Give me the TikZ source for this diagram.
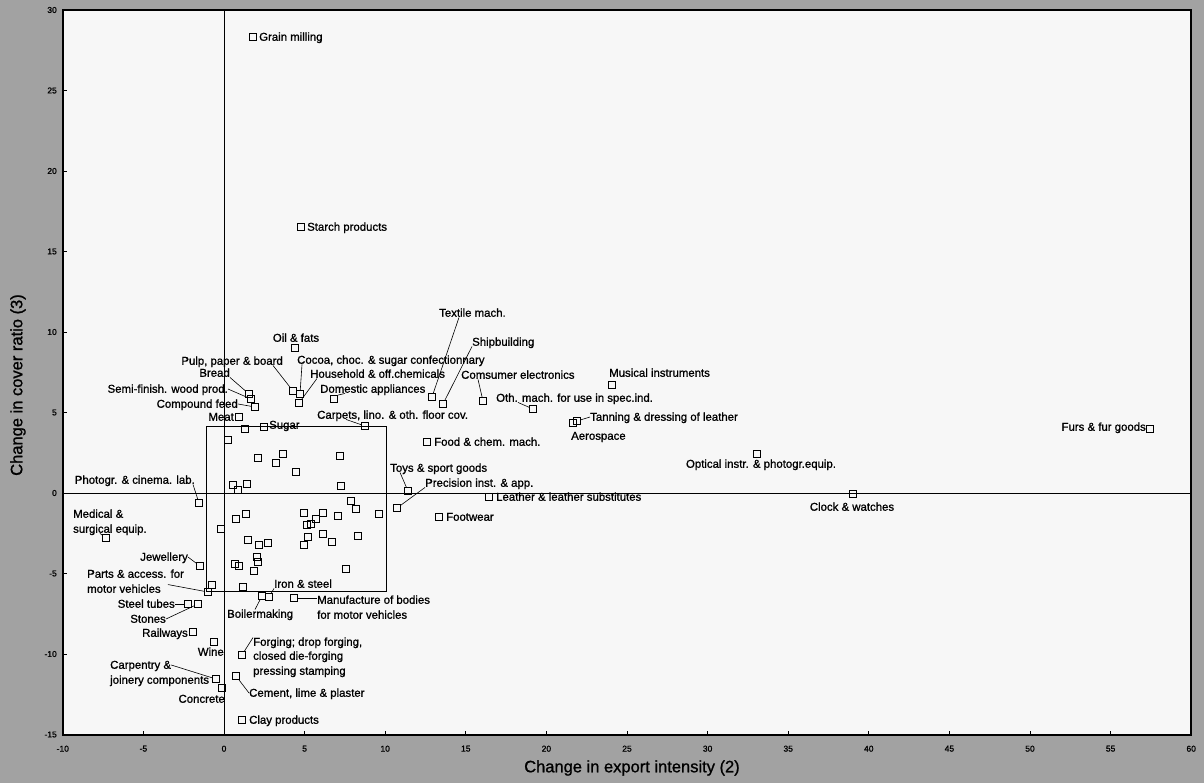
\documentclass[tikz,border=0pt]{standalone}
\usepackage{fontspec}
\setmainfont{Liberation Sans}
\newfontfamily\heavyfam[FakeBold=1.0]{Liberation Sans}
\usetikzlibrary{calc}
\definecolor{bggray}{RGB}{162,162,162}
\definecolor{plotbg}{RGB}{247,247,247}
\newcommand\mylblfont{\heavyfam\fontsize{11.4}{13}\selectfont}
\newcommand\mytickfont{\heavyfam\fontsize{8.5}{9}\selectfont}
\newcommand\mytitlefont{\heavyfam\fontsize{16.5}{18}\selectfont}
\begin{document}
\begin{tikzpicture}[x=1pt,y=-1pt,
  sq/.style={draw, line width=0.85pt, minimum size=7pt, inner sep=0pt},
  lbl/.style={font=\mylblfont, inner sep=0pt, text height=8pt, text depth=0.5pt},
  leader/.style={line width=0.6pt},
  ticklbl/.style={font=\mytickfont, inner sep=0pt},
  axtitle/.style={font=\mytitlefont, inner sep=0pt}]
\useasboundingbox (0,0) rectangle (1204,783);
\fill[bggray] (0,0) rectangle (1204,783);
\fill[plotbg] (63,10) rectangle (1191,735);
% zero lines and the inner box
\draw[line width=0.9pt] (224,10) -- (224,735);
\draw[line width=0.9pt] (63,493) -- (1191,493);
\draw[line width=0.8pt] (206,426) rectangle (386,591);
% ticks
\foreach \v in {-10,-5,...,60} {
  \pgfmathsetmacro\px{224+16.12*\v}
  \draw[line width=0.7pt] (\px,735) -- (\px,731);
  \node[ticklbl, anchor=north] (xt\v) at (\px,745.5) {\v};
}
\foreach \v in {-15,-10,...,30} {
  \pgfmathsetmacro\py{493-16.1*\v}
  \draw[line width=0.7pt] (63,\py) -- (67,\py);
  \node[ticklbl, anchor=east] (yt\v) at (57,\py) {\v};
}
\draw[line width=1.2pt] (63,10) rectangle (1191,735);
% axis titles
\node[axtitle] (xtitle) at (632,768) {Change in export intensity (2)};
\node[axtitle, rotate=90] (ytitle) at (18,385) {Change in cover ratio (3)};
% labelled points
\node[sq] (grain) at (253,37) {};
\node[sq] (starch) at (301,227) {};
\node[sq] (oil) at (295,348) {};
\node[sq] (pulp) at (293,391) {};
\node[sq] (cocoa) at (300,394) {};
\node[sq] (hh) at (299,403) {};
\node[sq] (dom) at (334,399) {};
\node[sq] (bread) at (249,394) {};
\node[sq] (semi) at (251,399) {};
\node[sq] (comp) at (255,407) {};
\node[sq] (meat) at (239,417) {};
\node[sq] (sugar) at (264,427) {};
\node[sq] (carp) at (365,426) {};
\node[sq] (tex) at (432,397) {};
\node[sq] (ship) at (443,404) {};
\node[sq] (cons) at (483,401) {};
\node[sq] (oth) at (533,409) {};
\node[sq] (mus) at (612,385) {};
\node[sq] (tan) at (577,421) {};
\node[sq] (aero) at (573,423) {};
\node[sq] (food) at (427,442) {};
\node[sq] (opt) at (757,454) {};
\node[sq] (furs) at (1150,429) {};
\node[sq] (clock) at (853,494) {};
\node[sq] (toys) at (408,491) {};
\node[sq] (prec) at (397,508) {};
\node[sq] (leath) at (489,497) {};
\node[sq] (foot) at (439,517) {};
\node[sq] (phot) at (199,503) {};
\node[sq] (med) at (106,538) {};
\node[sq] (jew) at (200,566) {};
\node[sq] (parts) at (208,592) {};
\node[sq] (iron) at (269,597) {};
\node[sq] (boil) at (262,596) {};
\node[sq] (manuf) at (294,598) {};
\node[sq] (st) at (188,604) {};
\node[sq] (stones) at (198,604) {};
\node[sq] (rail) at (193,632) {};
\node[sq] (wine) at (214,642) {};
\node[sq] (forge) at (242,655) {};
\node[sq] (carpj) at (216,679) {};
\node[sq] (conc) at (222,688) {};
\node[sq] (cem) at (236,676) {};
\node[sq] (clay) at (242,720) {};
% unlabelled points
\foreach \x/\y [count=\i] in {245/429,228/440,258/458,276/463,283/454,296/472,340/456,
  233/485,238/490,247/484,341/486,351/501,356/509,379/514,304/513,323/513,316/519,
  338/516,311/524,307/525,236/519,246/514,221/529,248/540,259/545,268/543,358/536,
  323/534,332/542,308/537,304/545,257/557,258/562,235/564,239/566,254/571,346/569,
  212/585,243/587}
  \node[sq] (u\i) at (\x,\y) {};
% labels
\node[lbl, anchor=west] (grain-l) at (259,37) {Grain milling};
\node[lbl, anchor=west] (starch-l) at (307,227) {Starch products};
\node[lbl] (oil-l) at (296,338) {Oil \& fats};
\node[lbl, anchor=east] (pulp-l) at (283,361) {Pulp, paper \& board};
\node[lbl, anchor=west] (cocoa-l) at (297,360) {Cocoa, choc. \& sugar confectionnary};
\node[lbl, anchor=west] (hh-l) at (310,374) {Household \& off.chemicals};
\node[lbl, anchor=west] (dom-l) at (320,389) {Domestic appliances};
\node[lbl, anchor=east] (bread-l) at (230,373) {Bread};
\node[lbl, anchor=east] (semi-l) at (228,389) {Semi-finish. wood prod.};
\node[lbl, anchor=east] (comp-l) at (238,404) {Compound feed};
\node[lbl, anchor=east] (meat-l) at (234,417) {Meat};
\node[lbl, anchor=west] (sugar-l) at (269,425) {Sugar};
\node[lbl, anchor=west] (carp-l) at (317,415) {Carpets, lino. \& oth. floor cov.};
\node[lbl, anchor=west] (tex-l) at (439,313) {Textile mach.};
\node[lbl, anchor=west] (ship-l) at (472,342) {Shipbuilding};
\node[lbl, anchor=west] (cons-l) at (461,375) {Comsumer electronics};
\node[lbl, anchor=west] (oth-l) at (496,398) {Oth. mach. for use in spec.ind.};
\node[lbl, anchor=west] (mus-l) at (609,373) {Musical instruments};
\node[lbl, anchor=west] (tan-l) at (590,417) {Tanning \& dressing of leather};
\node[lbl, anchor=west] (aero-l) at (571,436) {Aerospace};
\node[lbl, anchor=west] (food-l) at (434,442) {Food \& chem. mach.};
\node[lbl] (opt-l) at (761,464) {Optical instr. \& photogr.equip.};
\node[lbl, anchor=east] (furs-l) at (1146,427) {Furs \& fur goods};
\node[lbl] (clock-l) at (852,507) {Clock \& watches};
\node[lbl, anchor=west] (toys-l) at (390,468) {Toys \& sport goods};
\node[lbl, anchor=west] (prec-l) at (425,483) {Precision inst. \& app.};
\node[lbl, anchor=west] (leath-l) at (496,497) {Leather \& leather substitutes};
\node[lbl, anchor=west] (foot-l) at (446,517) {Footwear};
\node[lbl, anchor=east] (phot-l) at (195,480) {Photogr. \& cinema. lab.};
\node[lbl, anchor=west] (medA) at (73,514) {Medical \&};
\node[lbl, anchor=west] (medB) at (73,529) {surgical equip.};
\node[lbl, anchor=east] (jew-l) at (188,557) {Jewellery};
\node[lbl, anchor=west] (partsA) at (87,574) {Parts \& access. for};
\node[lbl, anchor=west] (partsB) at (87,589) {motor vehicles};
\node[lbl, anchor=west] (iron-l) at (274,584) {Iron \& steel};
\node[lbl, anchor=west] (boil-l) at (227,614) {Boilermaking};
\node[lbl, anchor=west] (manA) at (317,600) {Manufacture of bodies};
\node[lbl, anchor=west] (manB) at (317,615) {for motor vehicles};
\node[lbl, anchor=east] (st-l) at (175,604) {Steel tubes};
\node[lbl, anchor=east] (stones-l) at (166,619) {Stones};
\node[lbl, anchor=east] (rail-l) at (188,633) {Railways};
\node[lbl, anchor=east] (wine-l) at (224,652) {Wine};
\node[lbl, anchor=west] (forA) at (253,642) {Forging; drop forging,};
\node[lbl, anchor=west] (forB) at (253,656) {closed die-forging};
\node[lbl, anchor=west] (forC) at (253,671) {pressing stamping};
\node[lbl, anchor=west] (carpA) at (110,665) {Carpentry \&};
\node[lbl, anchor=west] (carpB) at (110,680) {joinery components};
\node[lbl, anchor=east] (conc-l) at (225,699) {Concrete};
\node[lbl, anchor=west] (cem-l) at (249,693) {Cement, lime \& plaster};
\node[lbl, anchor=west] (clay-l) at (249,720) {Clay products};
% leaders
\draw[leader] ($(pulp-l.south east)+(-10,0)$) -- (pulp);
\draw[leader] ($(cocoa-l.south west)+(5,0)$) -- (cocoa);
\draw[leader] ($(hh-l.south west)+(7,0)$) -- (hh);
\draw[leader] (dom.north east) -- ($(dom-l.south west)+(25,0)$);
\draw[leader] (bread-l.south east) -- (bread);
\draw[leader] (semi-l.east) -- (semi);
\draw[leader] (comp-l.east) -- (comp);
\draw[leader] ($(carp-l.south west)+(29,0)$) -- (carp);
\draw[leader] ($(tex-l.south west)+(20,0)$) -- (tex);
\draw[leader] (ship-l.south west) -- (ship);
\draw[leader] ($(cons-l.south west)+(17,0)$) -- (cons);
\draw[leader] ($(oth-l.south west)+(22,0)$) -- (oth);
\draw[leader] (tan-l.west) -- (tan);
\draw[leader] ($(toys-l.south west)+(10,0)$) -- (toys);
\draw[leader] (prec-l.south west) -- (prec);
\draw[leader] ($(phot-l.south east)+(-2,0)$) -- (phot);
\draw[leader] ($(medB.south west)+(27,0)$) -- (med);
\draw[leader] (jew-l.east) -- (jew);
\draw[leader] ($(partsB.north east)+(7,0)$) -- (parts);
\draw[leader] (iron-l.south west) -- (iron);
\draw[leader] ($(boil-l.north west)+(28,0)$) -- (boil);
\draw[leader] (manuf.east) -- (manuf.east -| manA.west);
\draw[leader] (st-l.east) -- (st);
\draw[leader] (stones-l.east) -- (stones);
\draw[leader] (forge) -- (forA.north west);
\draw[leader] (carpA.east) -- (carpj);
\draw[leader] (cem) -- (cem-l.west);
\end{tikzpicture}
\end{document}
